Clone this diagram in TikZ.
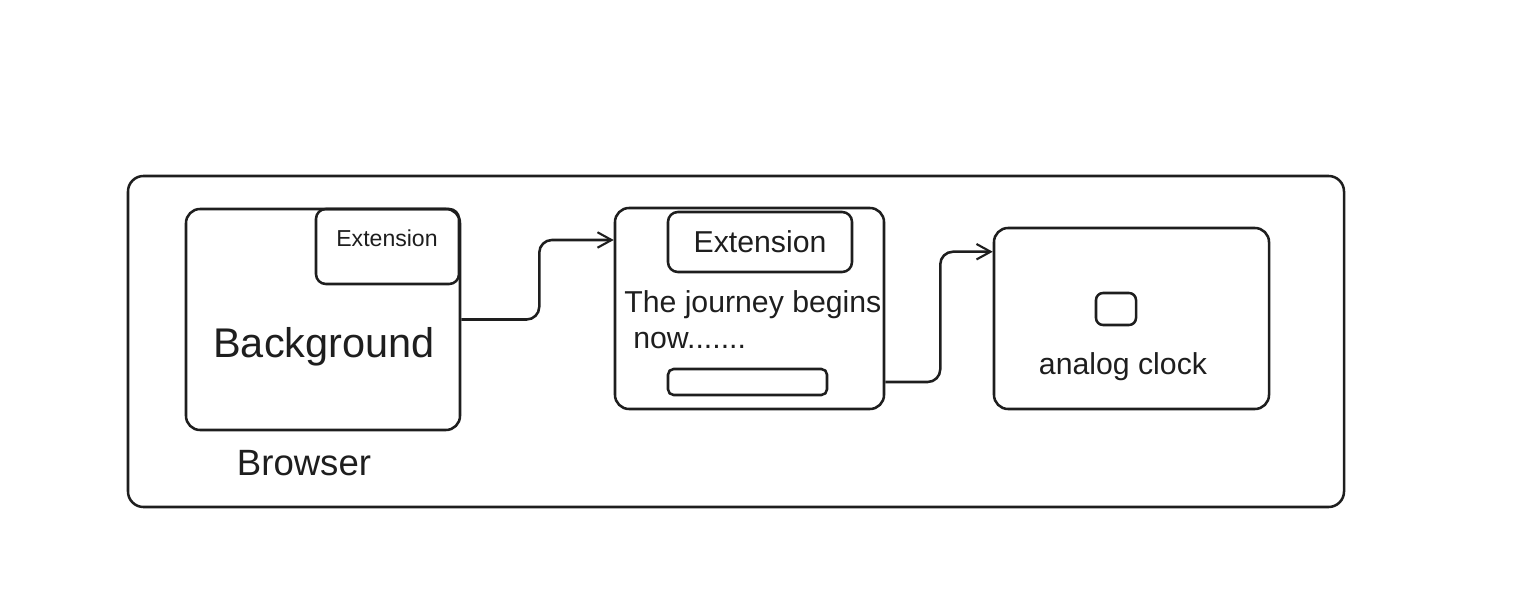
\documentclass[tikz,border=0pt]{standalone}
\usepackage{fontspec}
\setmainfont{Liberation Sans}
\usetikzlibrary{arrows.meta,calc}
\newdimen\px \px=0.025cm
\definecolor{ink}{HTML}{1E1E1E}
\tikzset{
  box/.style={draw=ink, line width=1.8pt, rounded corners=10pt, inner sep=0pt},
  flow/.style={draw=ink, line width=1.8pt, rounded corners=9pt,
    -{Straight Barb[length=10pt,width=11pt,line width=1.5pt]}},
  txt/.style={text=ink, inner sep=0pt}
}
\begin{document}
\begin{tikzpicture}[x=\px, y=-\px]
\useasboundingbox (0,0) rectangle (1518,609);
% browser frame
\node[box, rounded corners=11pt, minimum width=1216\px, minimum height=331\px] (browser) at (736,341.5) {};
\node[txt, font=\fontsize{26}{30}\selectfont] (browsertxt) at (304,463) {Browser};
% background page
\node[box, minimum width=274\px, minimum height=221\px] (bg) at (323,319.5) {};
\node[box, rounded corners=7pt, minimum width=143\px, minimum height=75\px] (ext1) at (387.5,246.5) {};
\node[txt, font=\fontsize{16.4}{19}\selectfont] (ext1txt) at (387,238) {Extension};
\node[txt, font=\fontsize{29.5}{34}\selectfont] (bgtxt) at (324,347) {Background};
% popup
\node[box, minimum width=269\px, minimum height=201\px] (mid) at (749.5,308.5) {};
\node[box, rounded corners=7pt, minimum width=184\px, minimum height=60\px,
  txt, font=\fontsize{21.5}{25}\selectfont] (ext2) at (760,242) {Extension};
\node[txt, anchor=west, align=left, font=\fontsize{21.5}{25.5}\selectfont] (journey) at (624,320)
  {The journey begins\\\hspace*{0.3em}now.......};
\node[box, rounded corners=4pt, minimum width=159\px, minimum height=26\px] (bar) at (747.5,382) {};
% clock page
\node[box, minimum width=275\px, minimum height=181\px] (clock) at (1131.5,318.5) {};
\node[box, rounded corners=5pt, minimum width=40\px, minimum height=32\px] (knob) at (1116,309) {};
\node[txt, font=\fontsize{21.5}{25}\selectfont] (clocktxt) at (1123,367) {analog clock};
% connectors
\draw[flow] (bg.east) -- ++(78,0) |- ($(mid.west |- ext2.west)+(0,-2)$);
\draw[flow] (bar.east -| mid.east) -- ++(55,0) |- ($(clock.north west)+(0,25)$);
\end{tikzpicture}
\end{document}
